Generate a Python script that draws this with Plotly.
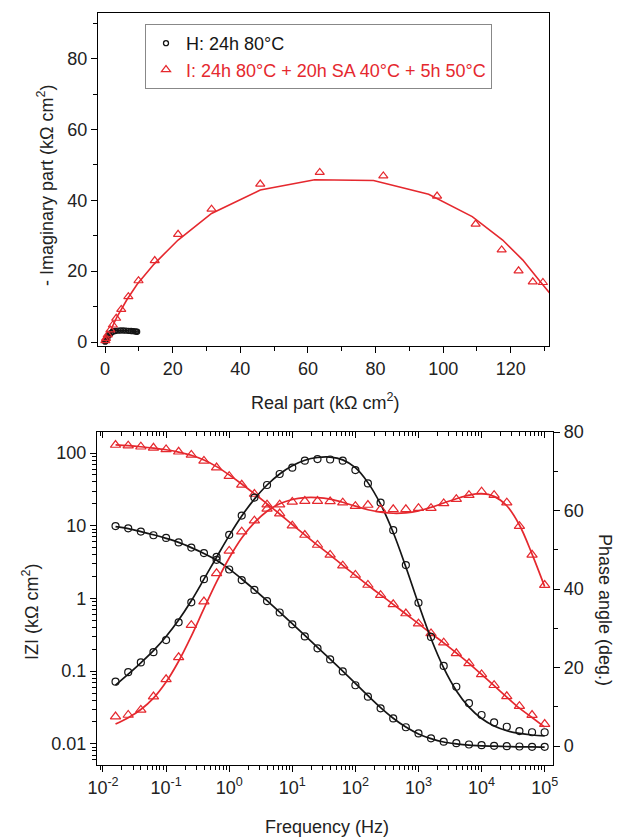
import plotly.graph_objects as go

# ---------------- data ----------------
# Nyquist plot (kOhm cm2)
nyq_h_re = [0.05, 0.15, 0.3, 0.5, 0.8, 1.2, 1.7, 2.3, 3.0, 3.8, 4.6, 5.4, 6.2, 7.0, 7.7, 8.3, 8.8, 9.2, 9.5]
nyq_h_im = [0.1, 0.3, 0.6, 1.0, 1.5, 2.0, 2.5, 2.9, 3.1, 3.2, 3.25, 3.25, 3.2, 3.15, 3.1, 3.05, 3.0, 2.95, 2.9]
nyq_h_fit_re = [0.0, 0.3, 0.8, 1.5, 2.3, 3.2, 4.5, 6.0, 7.5, 8.8, 9.6]
nyq_h_fit_im = [0.0, 0.6, 1.5, 2.4, 2.9, 3.15, 3.25, 3.2, 3.1, 3.0, 2.9]

nyq_i_re = [0.1, 0.3, 0.8, 1.6, 2.3, 3.3, 4.8, 6.9, 9.9, 14.7, 21.6, 31.5, 45.9, 63.5, 82.3, 98.2, 109.6, 117.3, 122.3, 126.5, 129.5]
nyq_i_im = [0.4, 1.0, 2.0, 3.4, 4.8, 6.7, 9.2, 12.8, 17.3, 23.0, 30.4, 37.5, 44.6, 47.9, 46.9, 41.2, 33.3, 26.0, 20.1, 17.0, 16.8]
nyq_i_fit_re = [0.0, 1.5, 3.5, 6.5, 9.5, 14.5, 21.6, 31.5, 45.9, 62.0, 79.4, 95.7, 108.6, 117.6, 123.5, 128.5, 135.0]
nyq_i_fit_im = [0.0, 3.2, 7.0, 12.0, 16.3, 22.0, 28.8, 36.3, 42.9, 45.8, 45.6, 41.7, 35.4, 28.8, 23.2, 17.3, 9.7]

# Bode plot
freq = [0.0158, 0.0251, 0.0398, 0.0631, 0.1, 0.158, 0.251, 0.398, 0.631, 1.0,
        1.58, 2.51, 3.98, 6.31, 10.0, 15.8, 25.1, 39.8, 63.1, 100.0,
        158.0, 251.0, 398.0, 631.0, 1000.0, 1580.0, 2510.0, 3980.0, 6310.0, 10000.0,
        15800.0, 25100.0, 39800.0, 63100.0, 100000.0]

h_modz = [9.9, 9.2, 8.3, 7.4, 6.8, 5.9, 5.0, 4.2, 3.4, 2.5,
          1.79, 1.31, 0.92, 0.64, 0.44, 0.30, 0.206, 0.145, 0.099, 0.064,
          0.0445, 0.0308, 0.0224, 0.0169, 0.0139, 0.0119, 0.0107, 0.0102, 0.0098, 0.0096,
          0.0094, 0.0093, 0.0092, 0.0091, 0.0091]
h_modz_fit = [9.7, 9.1, 8.3, 7.5, 6.7, 5.9, 5.0, 4.15, 3.35, 2.55,
              1.85, 1.32, 0.93, 0.65, 0.45, 0.31, 0.213, 0.146, 0.100, 0.068,
              0.046, 0.0315, 0.0225, 0.0170, 0.0137, 0.0118, 0.0106, 0.0100, 0.0096, 0.0094,
              0.0093, 0.0092, 0.0091, 0.0091, 0.0090]
h_phase = [16.4, 18.8, 21.3, 23.9, 27.0, 31.5, 36.6, 42.5, 48.2, 53.8,
           58.7, 63.3, 66.5, 69.3, 70.9, 72.7, 73.1, 73.0, 72.7, 70.3,
           66.9, 62.0, 55.0, 46.1, 36.5, 27.8, 20.4, 15.1, 10.9, 7.9,
           6.0, 4.9, 3.8, 3.5, 3.5]
h_phase_fit = [15.5, 18.3, 21.2, 24.3, 27.9, 32.1, 37.0, 42.5, 48.1, 53.6,
               58.6, 62.9, 66.5, 69.3, 71.4, 72.8, 73.5, 73.6, 72.9, 70.9,
               67.1, 61.6, 54.4, 45.6, 36.2, 27.4, 19.9, 14.1, 9.9, 7.0,
               5.1, 3.9, 3.2, 2.8, 2.6]

i_modz = [128.8, 126.0, 122.0, 118.0, 112.0, 104.0, 94.0, 78.0, 63.0, 48.0,
          36.5, 27.3, 19.5, 14.7, 10.0, 7.45, 5.43, 3.96, 2.82, 2.10,
          1.53, 1.11, 0.83, 0.62, 0.45, 0.33, 0.246, 0.176, 0.128, 0.090,
          0.064, 0.045, 0.033, 0.0249, 0.0187]
i_modz_fit = [129.0, 126.0, 122.0, 117.0, 111.0, 103.0, 93.0, 80.0, 65.0, 50.0,
              37.5, 27.5, 20.0, 14.5, 10.4, 7.5, 5.4, 3.95, 2.85, 2.08,
              1.52, 1.12, 0.83, 0.61, 0.45, 0.33, 0.245, 0.178, 0.128, 0.090,
              0.063, 0.044, 0.031, 0.023, 0.017]
i_phase = [7.5, 7.9, 9.2, 12.6, 17.0, 22.6, 30.8, 36.8, 44.0, 49.7,
           54.6, 57.4, 60.4, 61.5, 62.2, 62.4, 62.4, 62.3, 62.0, 61.1,
           61.4, 60.3, 60.3, 60.3, 60.6, 60.6, 61.8, 62.9, 63.9, 64.8,
           63.9, 62.0, 56.0, 48.7, 41.0]
i_phase_fit = [5.6, 7.2, 9.3, 12.2, 16.3, 21.6, 28.0, 35.0, 41.8, 47.9,
               53.0, 56.9, 59.8, 61.7, 62.8, 63.3, 63.3, 62.9, 62.1, 61.1,
               60.2, 59.6, 59.3, 59.4, 59.9, 60.8, 61.9, 63.0, 63.9, 64.3,
               63.6, 61.2, 56.3, 48.9, 40.6]

label_h = "H: 24h 80°C"
label_i = "I: 24h 80°C + 20h SA 40°C + 5h 50°C"

decades = [0.01, 0.1, 1, 10, 100, 1000, 10000, 100000]
freq_ticktext = ["10<sup>-2</sup>", "10<sup>-1</sup>", "10<sup>0</sup>", "10<sup>1</sup>",
                 "10<sup>2</sup>", "10<sup>3</sup>", "10<sup>4</sup>", "10<sup>5</sup>"]
modz_ticks = [0.01, 0.1, 1, 10, 100]
modz_ticktext = ["0.01", "0.1", "1", "10", "100"]

# ---------------- style ----------------
BLACK = "#151515"
RED = "#E5282E"
FONT = "Liberation Sans, Arial, sans-serif"
W, H = 618, 837


def px_x(p):
    return p / W


def px_y(p):
    return 1 - p / H


minor_freq = [m * d for d in [0.001] + decades for m in range(2, 10)]
minor_modz = [m * d for d in [0.001, 0.01, 0.1, 1, 10, 100] for m in range(2, 10)]

fig = go.Figure()

# Nyquist
fig.add_trace(go.Scatter(x=nyq_h_fit_re, y=nyq_h_fit_im, mode="lines",
                         line=dict(color=BLACK, width=1.6), showlegend=False,
                         xaxis="x", yaxis="y"))
fig.add_trace(go.Scatter(x=nyq_i_fit_re, y=nyq_i_fit_im, mode="lines",
                         line=dict(color=RED, width=1.6), showlegend=False,
                         xaxis="x", yaxis="y"))
fig.add_trace(go.Scatter(x=nyq_h_re, y=nyq_h_im, mode="markers",
                         name=f"<span style='color:{BLACK}'>{label_h}</span>",
                         marker=dict(symbol="circle-open", size=5, color=BLACK,
                                     line=dict(width=1.3, color=BLACK)),
                         xaxis="x", yaxis="y"))
fig.add_trace(go.Scatter(x=nyq_i_re, y=nyq_i_im, mode="markers",
                         name=f"<span style='color:{RED}'>{label_i}</span>",
                         marker=dict(symbol="triangle-up-open", size=8, color=RED,
                                     line=dict(width=1.2, color=RED)),
                         xaxis="x", yaxis="y"))

# Bode: |Z|
fig.add_trace(go.Scatter(x=freq, y=h_modz_fit, mode="lines", line=dict(color=BLACK, width=1.7),
                         line_shape="spline", showlegend=False, xaxis="x2", yaxis="y2"))
fig.add_trace(go.Scatter(x=freq, y=i_modz_fit, mode="lines", line=dict(color=RED, width=1.7),
                         line_shape="spline", showlegend=False, xaxis="x2", yaxis="y2"))
fig.add_trace(go.Scatter(x=freq, y=h_modz, mode="markers", showlegend=False,
                         marker=dict(symbol="circle-open", size=7, color=BLACK,
                                     line=dict(width=1.2, color=BLACK)),
                         xaxis="x2", yaxis="y2"))
fig.add_trace(go.Scatter(x=freq, y=i_modz, mode="markers", showlegend=False,
                         marker=dict(symbol="triangle-up-open", size=9, color=RED,
                                     line=dict(width=1.2, color=RED)),
                         xaxis="x2", yaxis="y2"))

# Bode: phase angle
fig.add_trace(go.Scatter(x=freq, y=h_phase_fit, mode="lines", line=dict(color=BLACK, width=1.7),
                         line_shape="spline", showlegend=False, xaxis="x2", yaxis="y3"))
fig.add_trace(go.Scatter(x=freq, y=i_phase_fit, mode="lines", line=dict(color=RED, width=1.7),
                         line_shape="spline", showlegend=False, xaxis="x2", yaxis="y3"))
fig.add_trace(go.Scatter(x=freq, y=h_phase, mode="markers", showlegend=False,
                         marker=dict(symbol="circle-open", size=7, color=BLACK,
                                     line=dict(width=1.2, color=BLACK)),
                         xaxis="x2", yaxis="y3"))
fig.add_trace(go.Scatter(x=freq, y=i_phase, mode="markers", showlegend=False,
                         marker=dict(symbol="triangle-up-open", size=9, color=RED,
                                     line=dict(width=1.2, color=RED)),
                         xaxis="x2", yaxis="y3"))

# invisible trace anchoring the top frequency axis (inward ticks)
fig.add_trace(go.Scatter(x=[1], y=[1], mode="markers", marker=dict(opacity=0),
                         showlegend=False, hoverinfo="skip", xaxis="x3", yaxis="y2"))

axis_common = dict(showline=True, linecolor="black", linewidth=1.4, showgrid=False,
                   zeroline=False, automargin=False, ticks="outside", ticklen=6,
                   tickwidth=1.3, tickcolor="black",
                   tickfont=dict(size=18, color="#222", family=FONT))

top_x_dom = [px_x(98), px_x(549)]
top_y_dom = [px_y(346), px_y(13)]
bot_x_dom = [px_x(97), px_x(553)]
bot_y_dom = [px_y(765), px_y(432)]

fig.update_layout(
    width=W, height=H,
    margin=dict(l=0, r=0, t=0, b=0, autoexpand=False),
    paper_bgcolor="white", plot_bgcolor="white",
    font=dict(family=FONT, color="#222"),
    xaxis=dict(**axis_common, domain=top_x_dom, anchor="y", range=[-2.08, 131.3],
               tick0=0, dtick=20, mirror=True,
               minor=dict(dtick=10, ticks="outside", ticklen=4, tickwidth=1.2, tickcolor="black")),
    yaxis=dict(**axis_common, domain=top_y_dom, anchor="x", range=[-1.13, 92.9],
               tick0=0, dtick=20, mirror=True,
               minor=dict(dtick=10, ticks="outside", ticklen=4, tickwidth=1.2, tickcolor="black")),
    xaxis2=dict(**axis_common, domain=bot_x_dom, anchor="y2", type="log",
                range=[-2.095, 5.132], tickvals=decades, ticktext=freq_ticktext,
                minor=dict(tickvals=minor_freq, ticks="outside", ticklen=3.5,
                           tickwidth=1.1, tickcolor="black")),
    xaxis3=dict(showline=True, linecolor="black", linewidth=1.4, showgrid=False,
                zeroline=False, automargin=False, overlaying="x2", side="top",
                anchor="y2", type="log", range=[-2.095, 5.132], tickvals=decades,
                showticklabels=False, ticks="inside", ticklen=6, tickwidth=1.3,
                tickcolor="black",
                minor=dict(tickvals=minor_freq, ticks="inside", ticklen=3.5,
                           tickwidth=1.1, tickcolor="black")),
    yaxis2=dict(**axis_common, domain=bot_y_dom, anchor="x2", type="log",
                range=[-2.291, 2.289], tickvals=modz_ticks, ticktext=modz_ticktext,
                minor=dict(tickvals=minor_modz, ticks="outside", ticklen=3.5,
                           tickwidth=1.1, tickcolor="black")),
    yaxis3=dict(**axis_common, overlaying="y2", side="right", anchor="x2",
                range=[-4.84, 80], tick0=0, dtick=20,
                minor=dict(dtick=10, ticks="outside", ticklen=4, tickwidth=1.2, tickcolor="black")),
    legend=dict(x=px_x(145), y=px_y(24), xanchor="left", yanchor="top",
                bordercolor="#888", borderwidth=1, bgcolor="white",
                font=dict(size=18, family=FONT), tracegroupgap=0,
                itemsizing="trace", itemwidth=30),
)

title_font = dict(size=18, family=FONT, color="#222")
annotations = [
    dict(text="- Imaginary part (kΩ cm<sup>2</sup>)", x=px_x(45), y=px_y(185), textangle=-90),
    dict(text="Real part (kΩ cm<sup>2</sup>)", x=px_x(325), y=px_y(401), textangle=0),
    dict(text="IZI (kΩ cm<sup>2</sup>)", x=px_x(30), y=px_y(612), textangle=-90),
    dict(text="Phase angle (deg.)", x=px_x(605), y=px_y(610), textangle=90),
    dict(text="Frequency (Hz)", x=px_x(327), y=px_y(827), textangle=0),
]
for a in annotations:
    fig.add_annotation(xref="paper", yref="paper", xanchor="center", yanchor="middle",
                       showarrow=False, font=title_font, **a)

fig.write_html("out.html")
